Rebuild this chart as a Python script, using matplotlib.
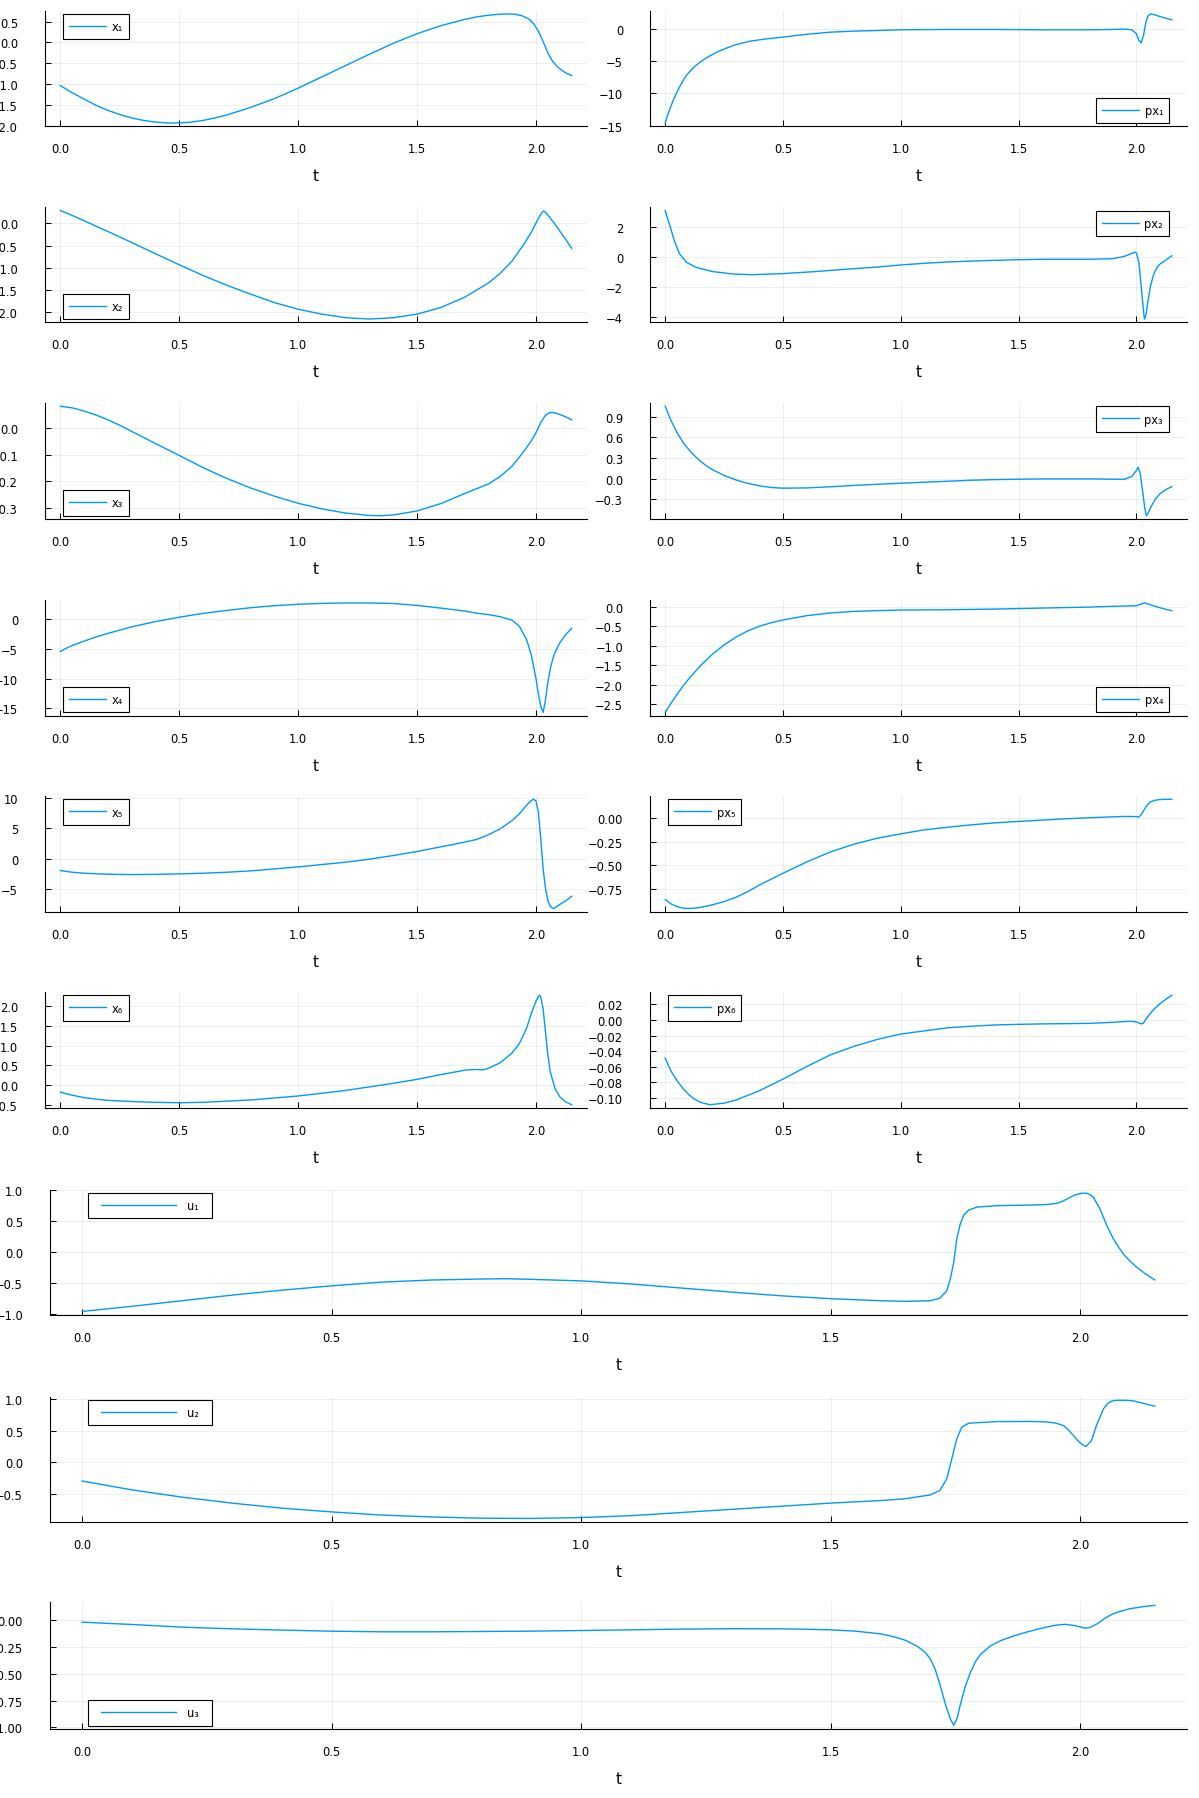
import matplotlib
matplotlib.use("Agg")
import matplotlib.pyplot as plt
from matplotlib.legend_handler import HandlerLine2D

plt.rcParams["font.family"] = ["DejaVu Sans"]

BLUE = "#009AFA"

# ---- states -----------------------------------------------------------
x1_t = [0, 0.05, 0.1, 0.15, 0.2, 0.25, 0.3, 0.35, 0.4, 0.45, 0.5, 0.55, 0.6, 0.65, 0.7, 0.8,
        0.9, 1.0, 1.1, 1.2, 1.3, 1.4, 1.5, 1.6, 1.7, 1.75, 1.8, 1.85, 1.88, 1.91, 1.94, 1.97,
        1.99, 2.01, 2.03, 2.05, 2.07, 2.09, 2.11, 2.13, 2.15]
x1_v = [-1.03, -1.2, -1.35, -1.5, -1.62, -1.72, -1.8, -1.86, -1.90, -1.92, -1.92, -1.90, -1.86,
        -1.80, -1.73, -1.55, -1.34, -1.09, -0.82, -0.55, -0.28, -0.02, 0.21, 0.40, 0.55, 0.61,
        0.65, 0.675, 0.68, 0.675, 0.64, 0.56, 0.45, 0.27, 0.02, -0.25, -0.45, -0.58, -0.67,
        -0.74, -0.79]

x2_t = [0, 0.05, 0.1, 0.2, 0.3, 0.4, 0.5, 0.6, 0.7, 0.8, 0.9, 1.0, 1.1, 1.2, 1.3, 1.4, 1.5,
        1.6, 1.7, 1.8, 1.85, 1.9, 1.95, 1.98, 2.0, 2.015, 2.025, 2.032, 2.04, 2.05, 2.06, 2.08,
        2.1, 2.125, 2.15]
x2_v = [0.29, 0.18, 0.06, -0.18, -0.43, -0.68, -0.93, -1.17, -1.39, -1.59, -1.78, -1.93, -2.04,
        -2.12, -2.15, -2.12, -2.04, -1.89, -1.66, -1.34, -1.12, -0.84, -0.46, -0.2, 0.01, 0.16,
        0.25, 0.28, 0.25, 0.19, 0.12, -0.02, -0.17, -0.36, -0.56]

x3_t = [0, 0.05, 0.1, 0.15, 0.2, 0.25, 0.3, 0.4, 0.5, 0.6, 0.7, 0.8, 0.9, 1.0, 1.1, 1.2, 1.3,
        1.35, 1.4, 1.5, 1.6, 1.7, 1.75, 1.8, 1.85, 1.9, 1.95, 1.98, 2.0, 2.02, 2.04, 2.06,
        2.08, 2.1, 2.125, 2.15]
x3_v = [0.083, 0.077, 0.065, 0.05, 0.032, 0.011, -0.012, -0.058, -0.103, -0.149, -0.19, -0.226,
        -0.257, -0.284, -0.305, -0.321, -0.330, -0.331, -0.328, -0.313, -0.285, -0.247, -0.229,
        -0.211, -0.182, -0.143, -0.087, -0.048, -0.017, 0.022, 0.049, 0.060, 0.058, 0.052,
        0.043, 0.032]

x4_t = [0, 0.025, 0.05, 0.1, 0.15, 0.2, 0.3, 0.4, 0.5, 0.6, 0.7, 0.8, 0.9, 1.0, 1.1, 1.2, 1.3,
        1.4, 1.5, 1.6, 1.7, 1.75, 1.8, 1.85, 1.9, 1.93, 1.96, 1.98, 2.0, 2.01, 2.02, 2.03,
        2.04, 2.05, 2.06, 2.07, 2.08, 2.1, 2.125, 2.15]
x4_v = [-5.45, -4.9, -4.45, -3.7, -3.0, -2.4, -1.3, -0.42, 0.32, 0.96, 1.46, 1.91, 2.25, 2.5,
        2.64, 2.71, 2.71, 2.62, 2.3, 1.85, 1.35, 1.0, 0.75, 0.4, -0.2, -1.2, -3.4, -6.0, -10.0,
        -12.6, -14.7, -15.7, -13.6, -10.6, -8.4, -6.8, -5.6, -4.0, -2.6, -1.57]

x5_t = [0, 0.05, 0.1, 0.2, 0.3, 0.4, 0.5, 0.6, 0.7, 0.8, 0.9, 1.0, 1.1, 1.2, 1.3, 1.4, 1.5,
        1.6, 1.7, 1.75, 1.8, 1.85, 1.9, 1.93, 1.96, 1.98, 1.99, 2.0, 2.01, 2.02, 2.03, 2.04,
        2.05, 2.06, 2.07, 2.08, 2.1, 2.125, 2.15]
x5_v = [-1.92, -2.2, -2.36, -2.53, -2.58, -2.55, -2.47, -2.36, -2.2, -1.98, -1.65, -1.32, -0.93,
        -0.55, -0.05, 0.55, 1.21, 1.98, 2.75, 3.19, 3.96, 4.95, 6.32, 7.4, 8.8, 9.6, 9.8, 9.5,
        7.7, 3.3, -1.6, -4.9, -6.9, -7.8, -8.15, -8.05, -7.5, -6.9, -6.15]

x6_t = [0, 0.025, 0.05, 0.1, 0.15, 0.2, 0.3, 0.4, 0.5, 0.6, 0.7, 0.8, 0.9, 1.0, 1.1, 1.2, 1.3,
        1.4, 1.5, 1.6, 1.7, 1.74, 1.78, 1.8, 1.85, 1.9, 1.93, 1.96, 1.98, 2.0, 2.01, 2.015,
        2.02, 2.03, 2.04, 2.05, 2.06, 2.08, 2.1, 2.125, 2.15]
x6_v = [-0.17, -0.215, -0.25, -0.31, -0.35, -0.38, -0.41, -0.43, -0.44, -0.43, -0.40, -0.37,
        -0.32, -0.27, -0.20, -0.13, -0.04, 0.05, 0.15, 0.27, 0.38, 0.40, 0.39, 0.43, 0.57,
        0.82, 1.05, 1.43, 1.81, 2.12, 2.24, 2.27, 2.23, 1.93, 1.34, 0.76, 0.34, -0.08, -0.29,
        -0.42, -0.49]

# ---- costates ---------------------------------------------------------
px1_t = [0, 0.01, 0.02, 0.035, 0.05, 0.07, 0.09, 0.12, 0.15, 0.18, 0.22, 0.26, 0.3, 0.36,
         0.43, 0.5, 0.6, 0.7, 0.8, 0.9, 1.0, 1.2, 1.4, 1.6, 1.8, 1.9, 1.95, 1.98, 2.0, 2.01,
         2.02, 2.03, 2.04, 2.05, 2.06, 2.08, 2.1, 2.125, 2.15]
px1_v = [-14.6, -13.4, -12.4, -11.0, -9.8, -8.4, -7.2, -6.0, -5.1, -4.4, -3.6, -3.0, -2.45,
         -1.92, -1.55, -1.29, -0.85, -0.52, -0.36, -0.26, -0.15, -0.1, -0.1, -0.15, -0.15,
         -0.1, -0.05, -0.15, -0.77, -1.8, -2.15, -1.03, 1.03, 2.05, 2.3, 2.15, 1.9, 1.64, 1.38]

px2_t = [0, 0.02, 0.04, 0.06, 0.09, 0.13, 0.2, 0.29, 0.37, 0.5, 0.63, 0.74, 0.9, 1.0, 1.1,
         1.2, 1.3, 1.4, 1.5, 1.6, 1.7, 1.8, 1.9, 1.95, 1.98, 1.995, 2.0, 2.01, 2.02, 2.03,
         2.034, 2.04, 2.05, 2.06, 2.07, 2.08, 2.09, 2.1, 2.125, 2.15]
px2_v = [3.13, 2.12, 1.05, 0.25, -0.33, -0.67, -0.95, -1.12, -1.16, -1.09, -0.96, -0.83,
         -0.65, -0.51, -0.40, -0.31, -0.25, -0.2, -0.16, -0.13, -0.13, -0.13, -0.09, 0.07,
         0.27, 0.33, 0.29, -0.33, -1.9, -3.6, -4.13, -3.9, -2.8, -1.9, -1.3, -0.89, -0.62,
         -0.45, -0.18, 0.11]

px3_t = [0, 0.025, 0.05, 0.075, 0.1, 0.125, 0.15, 0.175, 0.2, 0.25, 0.3, 0.35, 0.4, 0.45,
         0.5, 0.6, 0.7, 0.8, 0.9, 1.0, 1.1, 1.2, 1.3, 1.4, 1.5, 1.6, 1.7, 1.8, 1.9, 1.95,
         1.98, 2.0, 2.007, 2.015, 2.025, 2.035, 2.042, 2.05, 2.06, 2.08, 2.1, 2.125, 2.15]
px3_v = [1.05, 0.84, 0.67, 0.53, 0.42, 0.33, 0.25, 0.185, 0.13, 0.045, -0.02, -0.07, -0.105,
         -0.13, -0.14, -0.136, -0.12, -0.10, -0.083, -0.068, -0.053, -0.039, -0.024, -0.015,
         -0.01, -0.005, -0.005, -0.005, -0.01, -0.01, 0.03, 0.12, 0.165, 0.09, -0.15, -0.42,
         -0.54, -0.50, -0.42, -0.30, -0.22, -0.16, -0.117]

px4_t = [0, 0.025, 0.05, 0.075, 0.1, 0.15, 0.2, 0.25, 0.3, 0.35, 0.4, 0.45, 0.5, 0.6, 0.7,
         0.8, 0.9, 1.0, 1.2, 1.4, 1.6, 1.8, 1.9, 2.0, 2.02, 2.035, 2.05, 2.08, 2.1, 2.125, 2.15]
px4_v = [-2.71, -2.47, -2.25, -2.04, -1.85, -1.51, -1.22, -0.98, -0.78, -0.62, -0.50, -0.41,
         -0.34, -0.23, -0.16, -0.12, -0.10, -0.085, -0.077, -0.06, -0.034, -0.009, 0.01, 0.026,
         0.07, 0.096, 0.07, 0.01, -0.026, -0.068, -0.10]

px5_t = [0, 0.025, 0.05, 0.075, 0.1, 0.125, 0.15, 0.2, 0.25, 0.3, 0.35, 0.4, 0.5, 0.6, 0.7,
         0.8, 0.9, 1.0, 1.1, 1.2, 1.3, 1.4, 1.5, 1.6, 1.7, 1.8, 1.9, 1.95, 2.0, 2.01, 2.02,
         2.03, 2.04, 2.05, 2.06, 2.08, 2.1, 2.125, 2.15]
px5_v = [-0.865, -0.91, -0.938, -0.955, -0.958, -0.955, -0.947, -0.92, -0.885, -0.84, -0.78,
         -0.71, -0.585, -0.465, -0.36, -0.277, -0.213, -0.167, -0.124, -0.096, -0.071, -0.05,
         -0.035, -0.021, -0.007, 0.004, 0.014, 0.018, 0.016, 0.012, 0.035, 0.078, 0.12, 0.152,
         0.174, 0.19, 0.197, 0.2, 0.2]

px6_t = [0, 0.025, 0.05, 0.075, 0.1, 0.125, 0.15, 0.19, 0.25, 0.3, 0.35, 0.4, 0.5, 0.6, 0.7,
         0.8, 0.9, 1.0, 1.1, 1.2, 1.3, 1.4, 1.5, 1.6, 1.7, 1.8, 1.9, 1.95, 1.98, 2.0, 2.02,
         2.03, 2.04, 2.05, 2.06, 2.08, 2.1, 2.125, 2.15]
px6_v = [-0.049, -0.066, -0.078, -0.088, -0.096, -0.102, -0.106, -0.109, -0.107, -0.103,
         -0.097, -0.091, -0.076, -0.060, -0.045, -0.034, -0.025, -0.018, -0.014, -0.010,
         -0.008, -0.0064, -0.0056, -0.005, -0.0047, -0.0043, -0.003, -0.002, -0.0017, -0.0026,
         -0.005, -0.004, 0.001, 0.005, 0.009, 0.0155, 0.021, 0.0266, 0.0318]

# ---- controls ---------------------------------------------------------
u1_t = [0, 0.1, 0.2, 0.3, 0.4, 0.5, 0.6, 0.7, 0.8, 0.85, 0.9, 1.0, 1.1, 1.2, 1.3, 1.4, 1.5,
        1.6, 1.65, 1.7, 1.719, 1.733, 1.74, 1.747, 1.753, 1.76, 1.767, 1.777, 1.794, 1.834,
        1.9, 1.93, 1.954, 1.967, 1.98, 1.99, 2.003, 2.013, 2.02, 2.027, 2.04, 2.054, 2.067,
        2.077, 2.087, 2.1, 2.114, 2.13, 2.15]
u1_v = [-0.953, -0.87, -0.78, -0.69, -0.61, -0.54, -0.48, -0.446, -0.43, -0.425, -0.435,
        -0.46, -0.51, -0.575, -0.64, -0.70, -0.747, -0.78, -0.79, -0.78, -0.74, -0.62, -0.43,
        -0.16, 0.215, 0.457, 0.60, 0.683, 0.73, 0.753, 0.763, 0.77, 0.79, 0.83, 0.887, 0.925,
        0.953, 0.953, 0.93, 0.887, 0.70, 0.43, 0.215, 0.09, -0.027, -0.14, -0.24, -0.34,
        -0.446]

u2_t = [0, 0.1, 0.2, 0.3, 0.4, 0.5, 0.6, 0.7, 0.8, 0.9, 1.0, 1.1, 1.2, 1.3, 1.4, 1.5, 1.6,
        1.65, 1.7, 1.719, 1.733, 1.743, 1.753, 1.763, 1.777, 1.834, 1.9, 1.934, 1.952, 1.967,
        1.977, 1.987, 1.995, 2.003, 2.012, 2.023, 2.033, 2.047, 2.055, 2.063, 2.073, 2.083,
        2.095, 2.107, 2.125, 2.15]
u2_v = [-0.30, -0.44, -0.555, -0.65, -0.73, -0.79, -0.84, -0.87, -0.89, -0.894, -0.88, -0.85,
        -0.80, -0.75, -0.70, -0.65, -0.61, -0.58, -0.52, -0.45, -0.265, 0.053, 0.37, 0.556,
        0.62, 0.646, 0.648, 0.64, 0.62, 0.583, 0.51, 0.424, 0.35, 0.29, 0.25, 0.344, 0.583,
        0.848, 0.93, 0.97, 0.985, 0.985, 0.983, 0.975, 0.94, 0.89]

u3_t = [0, 0.1, 0.2, 0.3, 0.4, 0.5, 0.6, 0.7, 0.8, 0.9, 1.0, 1.1, 1.2, 1.3, 1.4, 1.45, 1.5,
        1.55, 1.6, 1.625, 1.65, 1.675, 1.69, 1.7, 1.71, 1.72, 1.73, 1.74, 1.747, 1.754, 1.76,
        1.77, 1.78, 1.79, 1.8, 1.82, 1.84, 1.87, 1.9, 1.93, 1.95, 1.97, 1.99, 2.01, 2.02,
        2.035, 2.05, 2.065, 2.08, 2.1, 2.125, 2.15]
u3_v = [-0.016, -0.0375, -0.0625, -0.078, -0.09, -0.1, -0.106, -0.106, -0.103, -0.1, -0.094,
        -0.0875, -0.081, -0.077, -0.078, -0.082, -0.0875, -0.10, -0.125, -0.15, -0.185,
        -0.245, -0.30, -0.36, -0.46, -0.61, -0.78, -0.92, -0.982, -0.91, -0.79, -0.62, -0.49,
        -0.39, -0.32, -0.24, -0.19, -0.14, -0.1, -0.065, -0.045, -0.036, -0.048, -0.072,
        -0.065, -0.03, 0.02, 0.06, 0.085, 0.11, 0.128, 0.142]

# ---- tick values ------------------------------------------------------
t_ticks = [0.0, 0.5, 1.0, 1.5, 2.0]
x1_ticks = [-2.0, -1.5, -1.0, -0.5, 0.0, 0.5]
x2_ticks = [-2.0, -1.5, -1.0, -0.5, 0.0]
x3_ticks = [-0.3, -0.2, -0.1, 0.0]
x4_ticks = [-15, -10, -5, 0]
x5_ticks = [-5, 0, 5, 10]
x6_ticks = [-0.5, 0.0, 0.5, 1.0, 1.5, 2.0]
px1_ticks = [-15, -10, -5, 0]
px2_ticks = [-4, -2, 0, 2]
px3_ticks = [-0.3, 0.0, 0.3, 0.6, 0.9]
px4_ticks = [-2.5, -2.0, -1.5, -1.0, -0.5, 0.0]
px5_ticks = [-0.75, -0.50, -0.25, 0.0]
px6_ticks = [-0.10, -0.08, -0.06, -0.04, -0.02, 0.0, 0.02]
u1_ticks = [-1.0, -0.5, 0.0, 0.5, 1.0]
u2_ticks = [-0.5, 0.0, 0.5, 1.0]
u3_ticks = [-1.0, -0.75, -0.5, -0.25, 0.0]

W, H = 1199, 1799
fig = plt.figure(figsize=(W / 100, H / 100), dpi=100)

TICK_FS = 8.3


def fmt(v, nd):
    s = f"{v:.{nd}f}"
    if float(s) == 0:
        s = s.lstrip("-")
    return s.replace("-", "\u2212")


def panel(box, t, v, label, yticks, nd, loc, wide=False):
    left, top, right, bottom = box
    ax = fig.add_axes([left / W, 1 - bottom / H, (right - left) / W, (bottom - top) / H])
    ax.plot(t, v, color=BLUE, lw=1.0, label=label + ("  " if wide else ""))
    ax.margins(x=0.03, y=0.03)
    ax.set_xticks(t_ticks)
    ax.set_xticklabels([fmt(x, 1) for x in t_ticks])
    ax.set_yticks(yticks)
    ax.set_yticklabels([fmt(y, nd) for y in yticks])
    ax.grid(True, color="k", alpha=0.08, lw=0.6)
    for s in ("top", "right"):
        ax.spines[s].set_visible(False)
    for s in ("left", "bottom"):
        ax.spines[s].set_linewidth(0.8)
    ax.tick_params(direction="in", length=4, width=0.75, labelsize=TICK_FS)
    ax.tick_params(axis="x", pad=11.5)
    ax.tick_params(axis="y", pad=19.4)
    ax.set_xlabel("t", fontsize=11, labelpad=9.5)

    dx, dy = 0.033, 3.3 / (bottom - top)
    anchors = {"upper left": (dx, 1 - dy), "lower left": (dx, dy),
               "upper right": (1 - dx, 1 - dy), "lower right": (1 - dx, dy)}
    hmap = {}
    if wide:
        hmap = {ax.lines[0]: HandlerLine2D(xpad=0.6)}
    leg = ax.legend(loc=loc, bbox_to_anchor=anchors[loc], borderaxespad=0,
                    fontsize=TICK_FS, handlelength=7.1 if wide else 3.2,
                    handletextpad=1.0 if wide else 0.5, borderpad=0.54,
                    fancybox=False, framealpha=1.0, edgecolor="black", handler_map=hmap)
    leg.get_frame().set_linewidth(0.8)
    return ax


L_LEFT, L_RIGHT = 45, 587
R_LEFT, R_RIGHT = 650, 1187
F_LEFT, F_RIGHT = 50, 1187
rows = [(11.7, 127.3), (208.3, 323.3), (404, 520), (600.7, 716.7), (797, 912.7), (993, 1109)]
wide_rows = [(1190.7, 1316), (1397.7, 1523), (1602.7, 1730)]

left_col = [
    (x1_t, x1_v, "x\u2081", x1_ticks, 1, "upper left"),
    (x2_t, x2_v, "x\u2082", x2_ticks, 1, "lower left"),
    (x3_t, x3_v, "x\u2083", x3_ticks, 1, "lower left"),
    (x4_t, x4_v, "x\u2084", x4_ticks, 0, "lower left"),
    (x5_t, x5_v, "x\u2085", x5_ticks, 0, "upper left"),
    (x6_t, x6_v, "x\u2086", x6_ticks, 1, "upper left"),
]
right_col = [
    (px1_t, px1_v, "px\u2081", px1_ticks, 0, "lower right"),
    (px2_t, px2_v, "px\u2082", px2_ticks, 0, "upper right"),
    (px3_t, px3_v, "px\u2083", px3_ticks, 1, "upper right"),
    (px4_t, px4_v, "px\u2084", px4_ticks, 1, "lower right"),
    (px5_t, px5_v, "px\u2085", px5_ticks, 2, "upper left"),
    (px6_t, px6_v, "px\u2086", px6_ticks, 2, "upper left"),
]
controls = [
    (u1_t, u1_v, "u\u2081", u1_ticks, 1, "upper left"),
    (u2_t, u2_v, "u\u2082", u2_ticks, 1, "upper left"),
    (u3_t, u3_v, "u\u2083", u3_ticks, 2, "lower left"),
]

for (top, bottom), a, b in zip(rows, left_col, right_col):
    panel((L_LEFT, top, L_RIGHT, bottom), *a)
    panel((R_LEFT, top, R_RIGHT, bottom), *b)

for (top, bottom), c in zip(wide_rows, controls):
    panel((F_LEFT, top, F_RIGHT, bottom), *c, wide=True)

fig.savefig("out.png", dpi=100, facecolor="white")
